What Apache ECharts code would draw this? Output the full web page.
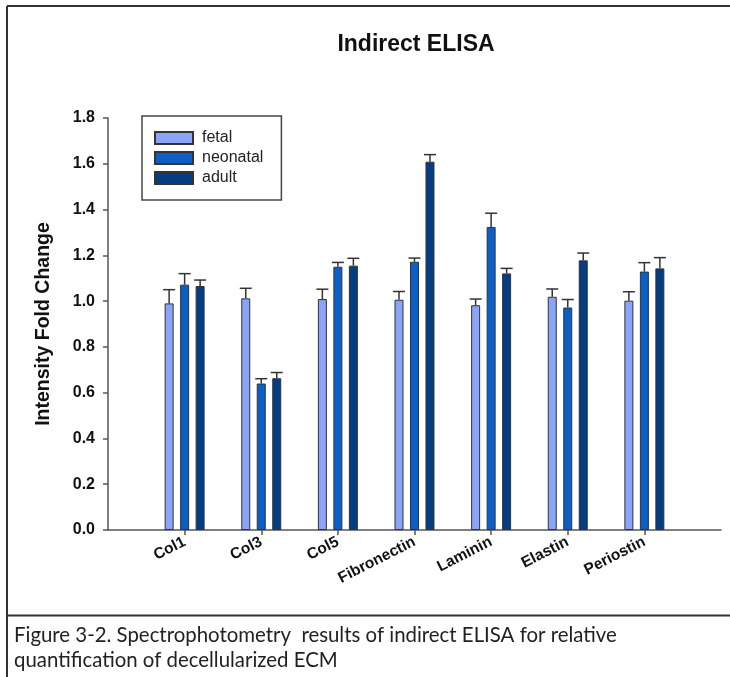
<!DOCTYPE html>
<html>
<head>
<meta charset="utf-8">
<script src="https://cdn.jsdelivr.net/npm/echarts@6/dist/echarts.min.js"></script>
<style>
  html, body { margin: 0; padding: 0; background: #fff; }
  #chart { width: 730px; height: 677px; }
</style>
</head>
<body>
<div id="chart"></div>
<script>
// ECM proteins measured by indirect ELISA
const categories = ['Col1', 'Col3', 'Col5', 'Fibronectin', 'Laminin', 'Elastin', 'Periostin'];

// Mean intensity fold change per donor age group
const fetal    = [0.99, 1.012, 1.009, 1.006, 0.982, 1.019, 1.002];
const neonatal = [1.072, 0.64, 1.15, 1.172, 1.324, 0.972, 1.129];
const adult    = [1.066, 0.663, 1.155, 1.609, 1.121, 1.178, 1.143];

// Standard error of each mean (upper bar only)
const fetalErr    = [0.060, 0.044, 0.043, 0.036, 0.027, 0.034, 0.039];
const neonatalErr = [0.048, 0.021, 0.019, 0.016, 0.060, 0.035, 0.039];
const adultErr    = [0.026, 0.025, 0.032, 0.031, 0.022, 0.032, 0.047];

const yTicks = [0, 0.2, 0.4, 0.6, 0.8, 1.0, 1.2, 1.4, 1.6, 1.8];

const groups = [
  { name: 'fetal',    values: fetal,    errs: fetalErr,    color: '#8aa3fb' },
  { name: 'neonatal', values: neonatal, errs: neonatalErr, color: '#0a5fc8' },
  { name: 'adult',    values: adult,    errs: adultErr,    color: '#053d82' }
];

// Blank slots at both ends leave a margin before the first and after the last group
const axisCats = [''].concat(categories, ['']);
const pad = arr => ['-'].concat(arr, ['-']);

const BAR_W = 9;
const STEP = 15.5;   // centre-to-centre distance of bars within a group
const CAP = 12;

const barSeries = groups.map(g => ({
  name: g.name,
  type: 'bar',
  data: pad(g.values),
  barWidth: BAR_W,
  barGap: ((STEP - BAR_W) / BAR_W * 100).toFixed(1) + '%',
  itemStyle: { color: g.color, borderColor: '#333', borderWidth: 1 },
  emphasis: { disabled: true },
  z: 2
}));

const errSeries = groups.map((g, gi) => ({
  name: g.name + ' SEM',
  type: 'custom',
  z: 3,
  data: g.values.map((v, i) => [i + 1, v, g.errs[i]]),
  encode: { x: 0, y: 1 },
  renderItem: function (params, api) {
    const off = (gi - 1) * STEP;
    const base = api.coord([api.value(0), api.value(1)]);
    const top = api.coord([api.value(0), api.value(1) + api.value(2)]);
    const x = base[0] + off;
    const style = { stroke: '#333', lineWidth: 1.5, fill: null };
    return {
      type: 'group',
      children: [
        { type: 'line', shape: { x1: x, y1: base[1], x2: x, y2: top[1] }, style: style },
        { type: 'line', shape: { x1: x - CAP / 2, y1: top[1], x2: x + CAP / 2, y2: top[1] }, style: style }
      ]
    };
  }
}));

const chart = echarts.init(document.getElementById('chart'), null, { renderer: 'canvas' });

const SANS = 'Liberation Sans, Arial, sans-serif';
const sansBold = { fontFamily: SANS, fontWeight: 'bold', color: '#111' };

chart.setOption({
  animation: false,
  backgroundColor: '#fff',
  legend: {
    data: groups.map(g => g.name),
    orient: 'vertical',
    left: 142,
    top: 116,
    icon: 'rect',
    itemWidth: 38,
    itemHeight: 12,
    itemGap: 4,
    padding: [14, 18, 14, 12],
    borderColor: '#444',
    borderWidth: 1.5,
    selectedMode: false,
    textStyle: { fontFamily: SANS, fontSize: 16, color: '#222', padding: [0, 0, 0, 4] }
  },
  grid: { left: 108, right: 9, top: 118, bottom: 147, containLabel: false },
  xAxis: {
    type: 'category',
    data: axisCats,
    boundaryGap: false,
    axisLine: { lineStyle: { color: '#555', width: 1.5 } },
    axisTick: {
      length: 5,
      lineStyle: { color: '#555', width: 1.5 },
      interval: (idx, val) => val !== ''
    },
    axisLabel: Object.assign({
      rotate: 27,
      fontSize: 15.5,
      margin: 11,
      interval: 0
    }, sansBold),
    splitLine: { show: false }
  },
  yAxis: {
    type: 'value',
    min: yTicks[0],
    max: yTicks[yTicks.length - 1],
    interval: 0.2,
    name: 'Intensity Fold Change',
    nameLocation: 'middle',
    nameGap: 54,
    nameTextStyle: Object.assign({ fontSize: 19.5 }, sansBold),
    axisLine: { show: true, lineStyle: { color: '#555', width: 1.5 } },
    axisTick: { show: true, length: 5, lineStyle: { color: '#555', width: 1.5 } },
    axisLabel: Object.assign({
      fontSize: 16,
      margin: 13,
      formatter: v => v.toFixed(1)
    }, sansBold),
    splitLine: { show: false }
  },
  series: barSeries.concat(errSeries),
  graphic: [
    // chart title, centred over the plot area
    {
      type: 'text', x: 416, y: 33,
      style: { text: 'Indirect ELISA', font: 'bold 23px ' + SANS, fill: '#111', align: 'center', verticalAlign: 'top' }
    },
    // outer frame: top and left edges
    { type: 'line', shape: { x1: 7, y1: 6, x2: 730, y2: 6 }, style: { stroke: '#333', lineWidth: 2 } },
    { type: 'line', shape: { x1: 7, y1: 6, x2: 7, y2: 677 }, style: { stroke: '#333', lineWidth: 2 } },
    // separator above the caption
    { type: 'line', shape: { x1: 7, y1: 615.5, x2: 730, y2: 615.5 }, style: { stroke: '#333', lineWidth: 2 } },
    {
      type: 'text', left: 14, top: 623,
      style: {
        text: 'Figure 3-2. Spectrophotometry  results of indirect ELISA for relative\nquantification of decellularized ECM',
        font: '20.4px Lato, "Open Sans", sans-serif',
        lineHeight: 25,
        fill: '#222'
      }
    }
  ]
});
</script>
</body>
</html>
